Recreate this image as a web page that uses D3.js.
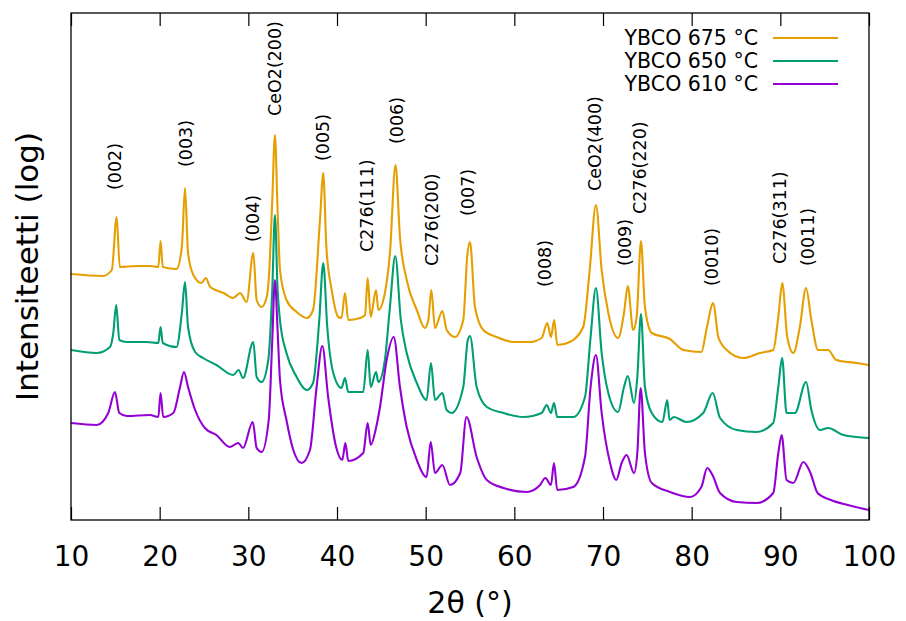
<!DOCTYPE html>
<html>
<head>
<meta charset="utf-8">
<script src="https://cdn.jsdelivr.net/npm/d3@7/dist/d3.min.js"></script>
<style>
  html, body { margin: 0; padding: 0; background: #fff; }
  svg { display: block; }
  text { font-family: "DejaVu Sans", sans-serif; fill: #000; }
</style>
</head>
<body>
<svg id="chart" width="906" height="621"></svg>
<script>
// 2θ (degrees), log intensity (arbitrary units, offset for stacking)
const ybco675 = [
  [10.0,246],[13.6,244],[14.6,250],[15.15,303],[15.5,253],[17.4,254],[18.9,254],[19.85,253],[20.1,279],[20.35,253],
  [21.9,251],[22.5,273],[22.86,332],[23.2,267],[23.8,245],[24.7,237],[25.2,242],[25.7,233],[27.2,227],[28.3,222],
  [29.06,227],[29.8,218],[30.56,267],[30.94,220],[31.5,213],[32.07,223],[32.3,240],[32.7,320],[33.0,385],[33.3,310],
  [33.57,250],[34.3,220],[35.45,208],[36.6,202],[37.3,210],[38.08,300],[38.45,347],[38.8,273],[39.4,230],[40.15,203],
  [40.5,202],[40.9,227],[41.27,200],[42.6,202],[43.16,205],[43.46,242],[43.8,203],[44.4,230],[44.66,210],[45.4,227],
  [45.97,267],[46.6,355],[47.1,283],[47.86,240],[49.0,210],[49.9,192],[50.3,200],[50.64,230],[51.05,192],[51.88,209],
  [52.37,190],[53.3,183],[54.24,200],[54.7,265],[55.0,278],[55.56,213],[56.5,190],[58.0,183],[59.9,178],[61.77,178],
  [63.08,182],[63.72,197],[64.13,183],[64.5,200],[64.84,175],[66.27,178],[67.77,193],[68.5,250],[69.2,315],[69.85,250],
  [70.6,207],[71.7,182],[72.37,207],[72.8,234],[73.4,190],[73.8,203],[74.28,279],[74.73,213],[75.5,187],[77.55,181],
  [79.06,170],[81.1,168],[81.7,192],[82.44,217],[83.0,183],[83.95,170],[85.83,162],[87.7,167],[89.2,170],[89.77,203],
  [90.22,237],[90.78,183],[91.46,167],[92.2,193],[92.9,232],[93.5,200],[94.26,170],[95.4,170],[96.3,160],[98.6,157],
  [100.0,155]
];
const ybco650 = [
  [10.0,170],[12.9,167],[14.4,173],[14.77,187],[15.1,215],[15.45,180],[16.3,178],[18.5,178],[19.85,177],[20.1,193],
  [20.35,177],[21.9,173],[22.5,207],[22.86,238],[23.2,193],[24.0,168],[24.9,162],[26.4,155],[28.3,145],[28.9,150],
  [29.4,142],[30.56,178],[30.94,143],[31.5,138],[32.25,160],[32.7,230],[33.0,305],[33.3,230],[33.57,200],[34.3,167],
  [35.45,143],[36.6,130],[37.3,137],[38.0,200],[38.45,257],[38.9,193],[39.58,147],[40.5,132],[40.9,142],[41.27,128],
  [42.96,128],[43.46,170],[43.8,133],[44.4,148],[44.66,138],[45.4,160],[45.97,213],[46.57,264],[47.2,200],[47.86,167],
  [49.0,137],[50.1,120],[50.6,157],[51.05,120],[51.88,127],[52.37,110],[52.93,107],[54.24,133],[54.75,180],[55.0,184],
  [55.75,133],[56.9,113],[58.8,107],[61.0,103],[63.08,107],[63.65,115],[64.13,107],[64.47,117],[64.84,103],[66.65,103],
  [67.97,123],[68.6,183],[69.2,232],[69.85,167],[70.6,127],[71.7,108],[72.37,133],[72.8,144],[73.5,117],[73.87,143],
  [74.28,206],[74.73,133],[75.5,107],[76.7,98],[77.25,120],[77.5,100],[78.0,103],[79.4,98],[81.3,107],[82.37,127],
  [83.2,102],[85.08,90],[87.3,88],[89.2,97],[89.77,133],[90.2,162],[90.7,107],[91.64,107],[92.9,138],[93.5,110],
  [94.47,90],[95.4,92],[97.1,85],[100.0,82]
];
const ybco610 = [
  [10.0,97],[12.9,95],[14.2,107],[14.96,128],[15.45,107],[16.3,104],[18.9,105],[19.85,103],[20.1,127],[20.4,103],
  [21.54,107],[22.3,133],[22.74,148],[23.2,133],[24.0,110],[25.1,92],[26.4,85],[27.9,73],[28.87,77],[29.4,72],
  [30.5,98],[30.94,72],[31.5,68],[32.3,100],[32.7,180],[33.0,240],[33.3,190],[33.57,140],[34.3,100],[35.07,70],
  [36.0,57],[36.95,70],[37.7,133],[38.34,174],[39.0,123],[39.9,73],[40.6,60],[40.94,77],[41.27,59],[42.96,67],
  [43.46,97],[43.8,75],[44.4,92],[44.85,113],[45.6,160],[46.4,183],[47.1,133],[47.86,93],[49.0,60],[50.1,43],
  [50.57,78],[51.05,47],[51.88,55],[52.74,35],[53.9,47],[54.6,103],[55.75,63],[56.9,40],[58.8,32],[61.4,28],
  [62.9,35],[63.5,42],[64.13,35],[64.47,57],[64.84,30],[66.65,33],[67.97,63],[68.6,133],[69.2,165],[69.85,107],
  [70.8,57],[71.5,40],[72.1,57],[72.66,65],[73.5,47],[73.87,67],[74.25,132],[74.73,67],[75.5,37],[77.55,28],
  [79.8,23],[81.1,33],[81.75,52],[82.35,45],[83.2,27],[85.08,18],[87.3,17],[89.2,27],[89.77,67],[90.15,85],
  [90.7,40],[91.46,37],[92.6,58],[93.4,47],[94.2,27],[95.7,20],[97.6,15],[100.0,10]
];
const seriesNames = ["YBCO 675 °C", "YBCO 650 °C", "YBCO 610 °C"];
const seriesColors = ["#e69f00", "#009e73", "#9400d3"];
const xTicks = [10, 20, 30, 40, 50, 60, 70, 80, 90, 100];
// peak labels: text, 2θ, anchor height (same units as intensity)
const peakText = ["(002)","(003)","(004)","CeO2(200)","(005)","C276(111)","(006)","C276(200)","(007)","(008)","CeO2(400)","(009)","C276(220)","(0010)","C276(311)","(0011)"];
const peakPos  = [14.96, 22.97, 30.53, 33.0, 38.42, 43.38, 46.77, 50.71, 54.77, 63.46, 69.1, 72.48, 74.17, 82.29, 89.96, 93.12];
const peakAt   = [330, 353, 278, 404, 359, 268, 376, 254, 304, 233, 329, 254, 306, 234, 256, 254];

const svg = d3.select("#chart");
const m = {left: 71, right: 869, top: 13, bottom: 520};
const x = d3.scaleLinear().domain([10, 100]).range([m.left, m.right]);
const y = d3.scaleLinear().domain([0, 507]).range([m.bottom, m.top]);

svg.append("defs").append("clipPath").attr("id", "clip")
  .append("rect").attr("x", m.left).attr("y", m.top)
  .attr("width", m.right - m.left).attr("height", m.bottom - m.top);

const line = d3.line().x(d => x(d[0])).y(d => y(d[1])).curve(d3.curveMonotoneX);
const g = svg.append("g").attr("clip-path", "url(#clip)");
[ybco675, ybco650, ybco610].forEach((s, i) => {
  g.append("path").datum(s).attr("d", line)
    .attr("fill", "none").attr("stroke", seriesColors[i])
    .attr("stroke-width", 2.1).attr("stroke-linejoin", "round");
});

// axes (ticks inward, bottom and top)
const tickLen = 13;
const axB = svg.append("g").attr("transform", `translate(0,${m.bottom})`)
  .call(d3.axisBottom(x).tickValues(xTicks).tickSize(-tickLen).tickPadding(26).tickFormat(d3.format("d")));
const axT = svg.append("g").attr("transform", `translate(0,${m.top})`)
  .call(d3.axisTop(x).tickValues(xTicks).tickSize(-tickLen).tickFormat(""));
[axB, axT].forEach(a => {
  a.select(".domain").remove();
  a.selectAll(".tick line").attr("stroke", "#000").attr("stroke-width", 1.2);
});
axB.selectAll(".tick text").attr("font-size", 28).attr("font-family", "DejaVu Sans").attr("fill", "#000");

svg.append("rect").attr("x", m.left).attr("y", m.top)
  .attr("width", m.right - m.left).attr("height", m.bottom - m.top)
  .attr("fill", "none").attr("stroke", "#000").attr("stroke-width", 1.3);

// axis titles
svg.append("text").attr("x", (m.left + m.right) / 2).attr("y", 613)
  .attr("text-anchor", "middle").attr("font-size", 30).text("2θ (°)");
svg.append("text").attr("transform", `translate(38,${(m.top + m.bottom) / 2}) rotate(-90)`)
  .attr("text-anchor", "middle").attr("font-size", 31).text("Intensiteetti (log)");

// peak labels
peakText.forEach((t, i) => {
  svg.append("text")
    .attr("transform", `translate(${x(peakPos[i])},${y(peakAt[i])}) rotate(-90)`)
    .attr("text-anchor", "start").attr("dy", "0.36em")
    .attr("font-size", 17.5).text(t);
});

// legend
seriesNames.forEach((n, i) => {
  const ly = 38 + i * 23;
  svg.append("text").attr("x", 758).attr("y", ly).attr("dy", "0.36em")
    .attr("text-anchor", "end").attr("font-size", 20.5).text(n);
  svg.append("line").attr("x1", 773).attr("x2", 838).attr("y1", ly).attr("y2", ly)
    .attr("stroke", seriesColors[i]).attr("stroke-width", 1.8);
});
</script>
</body>
</html>
